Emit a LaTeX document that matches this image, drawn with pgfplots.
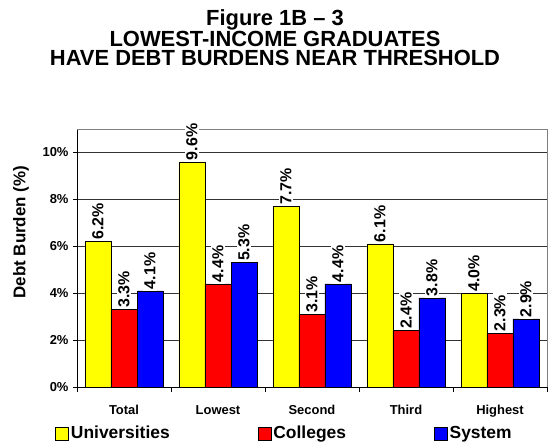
\documentclass[border=0pt]{standalone}
\usepackage{pgfplots}
\pgfplotsset{compat=1.18}
\usepackage{fontspec}
\setmainfont{Liberation Sans}
\definecolor{uyel}{RGB}{255,255,0}
\definecolor{cred}{RGB}{255,0,0}
\definecolor{sblu}{RGB}{0,0,255}
\pgfplotsset{mylegend/.style={legend image code/.code={\draw[##1,draw=black,line width=0.6bp] (0bp,-6.5bp) rectangle (13bp,6.5bp);}}}
\begin{document}
\begin{tikzpicture}
\useasboundingbox (0,0) rectangle (548bp,-445bp);
\node[anchor=north,align=center,inner sep=0pt,font=\bfseries\fontsize{22}{20}\selectfont] at (275bp,-9bp)
 {Figure 1B -- 3\\LOWEST-INCOME GRADUATES\\HAVE DEBT BURDENS NEAR THRESHOLD};
\begin{axis}[
  at={(77bp,-387bp)}, anchor=south west,
  scale only axis, width=470bp, height=258bp,
  ybar=0pt, bar width=26bp,
  xmin=-0.5, xmax=4.5, ymin=0, ymax=11,
  axis lines=left, axis line style={-,black,line width=0.8bp},
  xtick={0,1,2,3,4},
  xticklabels={Total,Lowest,Second,Third,Highest},
  major x tick style={draw=none},
  minor xtick={-0.5,0.5,1.5,2.5,3.5,4.5},
  minor x tick style={black,line width=0.8bp},
  minor tick length=5bp,
  ytick={0,2,4,6,8,10},
  yticklabels={0\%,2\%,4\%,6\%,8\%,10\%},
  major tick length=4bp,
  tick align=outside,
  y tick style={black,line width=0.8bp},
  ymajorgrids, major grid style={black!80,line width=0.7bp},
  yticklabel style={font=\bfseries\fontsize{13}{13}\selectfont, xshift=-1bp},
  xticklabel style={font=\bfseries\fontsize{13}{13}\selectfont, yshift=-11bp},
  ylabel={Debt Burden (\%)},
  ylabel style={font=\bfseries\fontsize{17}{17}\selectfont, at={(axis description cs:-0.119,0.6)}, anchor=center},
  nodes near coords={\pgfmathprintnumber[fixed,precision=1,fixed zerofill,assume math mode=true]{\pgfplotspointmeta}\%},
  nodes near coords style={rotate=90, anchor=west, font=\bfseries\fontsize{16}{16}\selectfont, fill=white, inner sep=1.5bp},
  clip=false,
  legend columns=3,
  legend style={at={(axis description cs:0.4415,-0.182)}, anchor=center, draw=none, fill=none,
    font=\bfseries\fontsize{17.5}{17.5}\selectfont, inner sep=0pt,
    nodes={text height=12.5bp, text depth=3.5bp, inner sep=2bp},
    /tikz/every even column/.append style={column sep=86bp}},
  legend cell align=left,
]
\addplot[fill=uyel, draw=black, line width=0.6bp, mylegend] coordinates {(0,6.2) (1,9.6) (2,7.7) (3,6.1) (4,4.0)};
\addplot[fill=cred, draw=black, line width=0.6bp, mylegend] coordinates {(0,3.3) (1,4.4) (2,3.1) (3,2.4) (4,2.3)};
\addplot[fill=sblu, draw=black, line width=0.6bp, mylegend] coordinates {(0,4.1) (1,5.3) (2,4.4) (3,3.8) (4,2.9)};
\legend{Universities,Colleges,System}
\draw[gray,line width=0.8bp] (rel axis cs:0,1) -- (rel axis cs:1,1) -- (rel axis cs:1,0);
\end{axis}
\end{tikzpicture}
\end{document}
